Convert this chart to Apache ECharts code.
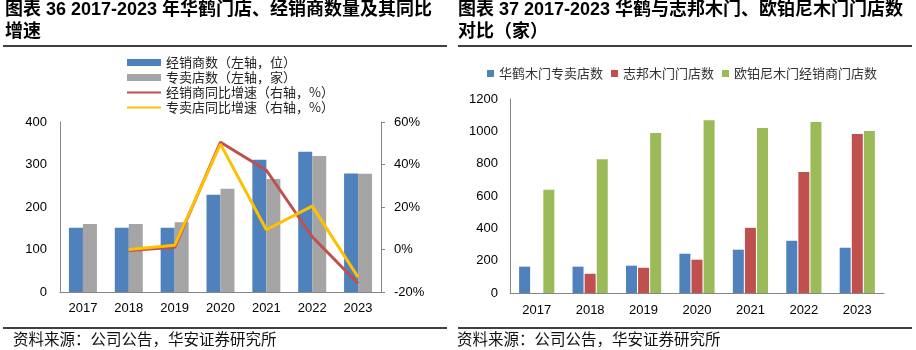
<!DOCTYPE html>
<html>
<head>
<meta charset="utf-8">
<script src="https://cdn.jsdelivr.net/npm/echarts@6/dist/echarts.min.js"></script>
<style>
  html, body { margin: 0; padding: 0; background: #fff; }
  #main { width: 916px; height: 350px; }
</style>
</head>
<body>
<div id="main"></div>
<script>
// 图表36 数据
var years = ['2017', '2018', '2019', '2020', '2021', '2022', '2023'];
var dealerCount = [151, 151, 151, 229, 311, 330, 279];
var storeCount = [160, 160, 164, 243, 266, 320, 278];
var dealerGrowth = [null, -0.5, 1, 50.5, 37.3, 6, -16];
var storeGrowth = [null, 0, 2, 49.6, 9.3, 20.4, -13];

// 图表37 数据
var huaheStores = [163, 163, 169, 243, 268, 323, 280];
var zbomStores = [null, 119, 156, 206, 403, 749, 984];
var oupoStores = [638, 827, 990, 1068, 1021, 1058, 1002];

var leftTicks = { min: 0, max: 400, interval: 100 };
var rightTicks = { min: -20, max: 60, interval: 20 };
var storeTicks = { min: 0, max: 1200, interval: 200 };

var axisGray = '#868686';
var cjk = '"Noto Sans CJK SC", sans-serif';
var latin = '"Liberation Sans", Arial, "Noto Sans CJK SC", sans-serif';
var plain = function (v) { return String(v); };

var chartDom = document.getElementById('main');
var myChart = echarts.init(chartDom);
var option;

option = {
  animation: false,
  backgroundColor: '#fff',
  // 标题、分割线、资料来源
  graphic: [
    { type: 'text', left: 5, top: 1, style: { text: '图表 36 2017-2023 年华鹤门店、经销商数量及其同比', font: 'bold 18px ' + latin, fill: '#000' } },
    { type: 'text', left: 5, top: 23, style: { text: '增速', font: 'bold 18px ' + latin, fill: '#000' } },
    { type: 'text', left: 458, top: 1, style: { text: '图表 37 2017-2023 华鹤与志邦木门、欧铂尼木门门店数', font: 'bold 18px ' + latin, fill: '#000' } },
    { type: 'text', left: 458, top: 23, style: { text: '对比（家）', font: 'bold 18px ' + latin, fill: '#000' } },
    { type: 'line', shape: { x1: 3, y1: 46, x2: 447, y2: 46 }, style: { stroke: '#000', lineWidth: 1.5 } },
    { type: 'line', shape: { x1: 458, y1: 46, x2: 912, y2: 46 }, style: { stroke: '#000', lineWidth: 1.5 } },
    { type: 'line', shape: { x1: 3, y1: 328, x2: 447, y2: 328 }, style: { stroke: '#000', lineWidth: 1.5 } },
    { type: 'line', shape: { x1: 458, y1: 328, x2: 912, y2: 328 }, style: { stroke: '#000', lineWidth: 1.5 } },
    { type: 'text', left: 13, top: 331, style: { text: '资料来源：公司公告，华安证券研究所', font: '15.5px ' + cjk, fill: '#111' } },
    { type: 'text', left: 457, top: 331, style: { text: '资料来源：公司公告，华安证券研究所', font: '15.5px ' + cjk, fill: '#111' } }
  ],
  legend: [
    {
      orient: 'vertical',
      left: 121,
      top: 50,
      itemWidth: 34,
      itemHeight: 7,
      itemGap: 0,
      itemStyle: { borderWidth: 0 },
      textStyle: { fontFamily: cjk, fontSize: 13, color: '#222', lineHeight: 15 },
      data: [
        { name: '经销商数（左轴，位）', icon: 'rect' },
        { name: '专卖店数（左轴，家）', icon: 'rect' },
        { name: '经销商同比增速（右轴，%）', itemStyle: { opacity: 0 } },
        { name: '专卖店同比增速（右轴，%）', itemStyle: { opacity: 0 } }
      ]
    },
    {
      left: 482,
      top: 62,
      itemWidth: 7,
      itemHeight: 7,
      itemGap: 8,
      icon: 'rect',
      textStyle: { fontFamily: cjk, fontSize: 13, color: '#333' },
      data: ['华鹤木门专卖店数', '志邦木门门店数', '欧铂尼木门经销商门店数']
    }
  ],
  grid: [
    { left: 60, top: 122, width: 321, height: 170 },
    { left: 510, top: 99, width: 374, height: 194 }
  ],
  xAxis: [
    {
      type: 'category', gridIndex: 0, data: years,
      axisLine: { lineStyle: { color: axisGray } },
      axisTick: { show: false },
      axisLabel: { color: '#000', fontFamily: latin, fontSize: 13, margin: 10 }
    },
    {
      type: 'category', gridIndex: 1, data: years,
      axisLine: { lineStyle: { color: axisGray } },
      axisTick: { show: false },
      axisLabel: { color: '#000', fontFamily: latin, fontSize: 13, margin: 11 }
    }
  ],
  yAxis: [
    {
      type: 'value', gridIndex: 0,
      min: leftTicks.min, max: leftTicks.max, interval: leftTicks.interval,
      axisLine: { show: true, lineStyle: { color: axisGray } },
      axisTick: { show: false },
      splitLine: { show: false },
      axisLabel: { color: '#000', fontFamily: latin, fontSize: 13, margin: 13, formatter: plain }
    },
    {
      type: 'value', gridIndex: 0, position: 'right',
      min: rightTicks.min, max: rightTicks.max, interval: rightTicks.interval,
      axisLine: { show: true, lineStyle: { color: axisGray } },
      axisTick: { show: true, length: 4, lineStyle: { color: axisGray } },
      splitLine: { show: false },
      axisLabel: { color: '#000', fontFamily: latin, fontSize: 13, margin: 13, formatter: '{value}%' }
    },
    {
      type: 'value', gridIndex: 1,
      min: storeTicks.min, max: storeTicks.max, interval: storeTicks.interval,
      axisLine: { show: true, lineStyle: { color: axisGray } },
      axisTick: { show: false },
      splitLine: { show: false },
      axisLabel: { color: '#000', fontFamily: latin, fontSize: 13, margin: 12, formatter: plain }
    }
  ],
  series: [
    {
      name: '经销商数（左轴，位）', type: 'bar', xAxisIndex: 0, yAxisIndex: 0,
      barWidth: 14, barGap: '0%', itemStyle: { color: '#4F81BD' }, data: dealerCount
    },
    {
      name: '专卖店数（左轴，家）', type: 'bar', xAxisIndex: 0, yAxisIndex: 0,
      barWidth: 14, barGap: '0%', itemStyle: { color: '#A5A5A5' }, data: storeCount
    },
    {
      name: '经销商同比增速（右轴，%）', type: 'line', xAxisIndex: 0, yAxisIndex: 1,
      symbol: 'none', lineStyle: { color: '#C0504D', width: 3 }, itemStyle: { color: '#C0504D' },
      data: dealerGrowth
    },
    {
      name: '专卖店同比增速（右轴，%）', type: 'line', xAxisIndex: 0, yAxisIndex: 1,
      symbol: 'none', lineStyle: { color: '#FFC000', width: 3 }, itemStyle: { color: '#FFC000' },
      data: storeGrowth
    },
    {
      name: '华鹤木门专卖店数', type: 'bar', xAxisIndex: 1, yAxisIndex: 2,
      barWidth: 11, barGap: '10%', itemStyle: { color: '#4F81BD' }, data: huaheStores
    },
    {
      name: '志邦木门门店数', type: 'bar', xAxisIndex: 1, yAxisIndex: 2,
      barWidth: 11, barGap: '10%', itemStyle: { color: '#C0504D' }, data: zbomStores
    },
    {
      name: '欧铂尼木门经销商门店数', type: 'bar', xAxisIndex: 1, yAxisIndex: 2,
      barWidth: 11, barGap: '10%', itemStyle: { color: '#9BBB59' }, data: oupoStores
    }
  ]
};

option && myChart.setOption(option);
</script>
</body>
</html>
